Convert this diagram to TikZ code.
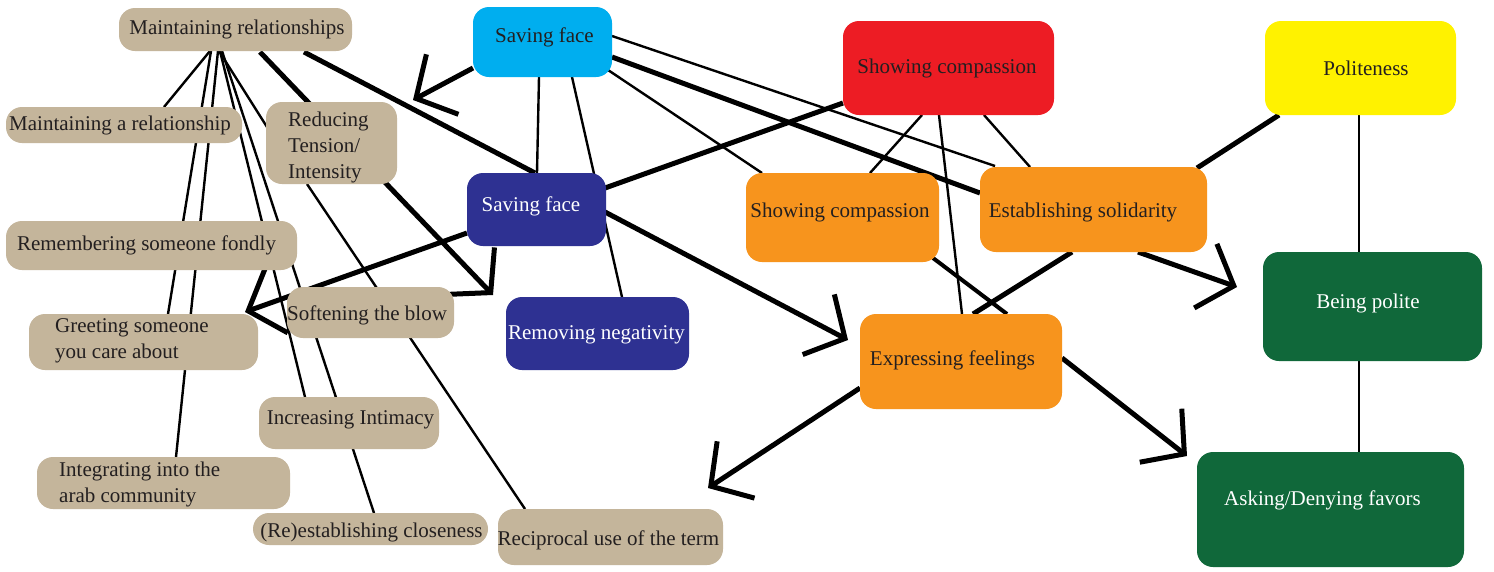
\documentclass[tikz,border=0pt]{standalone}
\usepackage{fontspec}
\setmainfont{Liberation Serif}
\usetikzlibrary{arrows.meta,calc,backgrounds}
\definecolor{beige}{HTML}{C4B59B}
\definecolor{cyanbox}{HTML}{00AEEF}
\definecolor{navy}{HTML}{2E3192}
\definecolor{redbox}{HTML}{ED1C24}
\definecolor{orangebox}{HTML}{F7941D}
\definecolor{yellowbox}{HTML}{FFF200}
\definecolor{greenbox}{HTML}{10683A}
\definecolor{ink}{HTML}{231F20}
\begin{document}
\begin{tikzpicture}[x=1pt,y=-1pt,
  box/.style={rectangle, rounded corners=16pt, inner sep=0pt, draw=none},
  txt/.style={font=\fontsize{21}{26}\selectfont, text=ink, inner sep=0pt, align=left, yshift=-2pt},
  wtxt/.style={txt, text=white},
  thinline/.style={line width=2.4pt},
  medline/.style={line width=4pt},
  thickline/.style={line width=5pt},
  arr/.style={thickline, miter limit=20, -{Straight Barb[length=30pt,width=68pt]}},
]
\useasboundingbox (0,0) rectangle (1494,571);

% ---- beige boxes ----
\node[box, fill=beige, minimum width=233pt, minimum height=43pt] (MR) at (235.5,29.5) {};
\node[box, fill=beige, minimum width=236pt, minimum height=36pt] (MAR) at (124,125) {};
\node[box, fill=beige, minimum width=131pt, minimum height=82pt] (RT) at (331.5,143) {};
\node[box, fill=beige, minimum width=291pt, minimum height=49pt] (RSF) at (151.5,245.5) {};
\node[box, fill=beige, minimum width=229pt, minimum height=56pt] (GS) at (143.5,342) {};
\node[box, fill=beige, minimum width=167pt, minimum height=51pt] (STB) at (370.5,312.5) {};
\node[box, fill=beige, minimum width=180pt, minimum height=52pt] (II) at (349,423) {};
\node[box, fill=beige, minimum width=253pt, minimum height=52pt] (IAC) at (163.5,483) {};
\node[box, fill=beige, minimum width=235pt, minimum height=32pt] (REC) at (370.5,529) {};
\node[box, fill=beige, minimum width=225pt, minimum height=56pt] (RUT) at (610.5,537) {};

% ---- coloured boxes ----
\node[box, fill=cyanbox, minimum width=139pt, minimum height=70pt] (SF1) at (542.5,42) {};
\node[box, fill=navy, minimum width=139pt, minimum height=73pt] (SF2) at (536.5,209.5) {};
\node[box, fill=navy, minimum width=183pt, minimum height=73pt] (RN) at (597.5,333.5) {};
\node[box, fill=redbox, minimum width=211pt, minimum height=94pt] (SCr) at (948.5,68) {};
\node[box, fill=orangebox, minimum width=193pt, minimum height=89pt] (SCo) at (842.5,217.5) {};
\node[box, fill=orangebox, minimum width=227pt, minimum height=85pt] (ES) at (1093.5,209.5) {};
\node[box, fill=orangebox, minimum width=202pt, minimum height=95pt] (EF) at (961,361.5) {};
\node[box, fill=yellowbox, minimum width=191pt, minimum height=94pt] (POL) at (1360.5,68) {};
\node[box, fill=greenbox, minimum width=219pt, minimum height=109pt] (BP) at (1372.5,306.5) {};
\node[box, fill=greenbox, minimum width=267pt, minimum height=115pt] (ADF) at (1330.5,509.5) {};

% ---- texts ----
\node[txt] (MRt) at (237,27) {Maintaining relationships};
\node[txt] (MARt) at (120,123) {Maintaining a relationship};
\node[txt, anchor=west] (RTt) at (288,145) {Reducing\\Tension/\\Intensity};
\node[txt] (RSFt) at (146.5,243) {Remembering someone fondly};
\node[txt, anchor=west] (GSt) at (55,339) {Greeting someone\\you care about};
\node[txt] (STBt) at (367,313) {Softening the blow};
\node[txt] (IIt) at (350.5,418) {Increasing Intimacy};
\node[txt, anchor=west] (IACt) at (59,482) {Integrating into the\\arab community};
\node[txt] (RECt) at (371.5,530) {(Re)establishing closeness};
\node[txt] (RUTt) at (608.5,538) {Reciprocal use of the term};
\node[txt] (SF1t) at (544.5,35) {Saving face};
\node[wtxt] (SF2t) at (531,204) {Saving face};
\node[wtxt] (RNt) at (596.5,333) {Removing negativity};
\node[txt] (SCrt) at (947,66) {Showing compassion};
\node[txt] (SCot) at (840,210) {Showing compassion};
\node[txt] (ESt) at (1083,210) {Establishing solidarity};
\node[txt] (EFt) at (952.5,358) {Expressing feelings};
\node[txt] (POLt) at (1366,66) {Politeness};
\node[wtxt] (BPt) at (1368,301) {Being polite};
\node[wtxt] (ADFt) at (1322.5,498) {Asking/Denying favors};

% ---- free arrow ends ----
\coordinate (t23) at (413,100);
\coordinate (t24) at (493,295);
\coordinate (t25) at (245,312);
\coordinate (t26) at (848,340);
\coordinate (t27) at (708,488);
\coordinate (t28) at (1187,456);
\coordinate (t29) at (1237,287);

\begin{pgfonlayer}{background}
\fill[white] (0,0) rectangle (1494,571);
% thin connectors
\draw[thinline] ($(MR.center)+(-25.5,21.5)$) -- ($(MAR.center)+(40,-18)$);
\draw[thinline] ($(MR.center)+(-24.5,21.5)$) -- ($(GS.center)+(24.5,-28)$);
\draw[thinline] ($(MR.center)+(-17.5,21.5)$) -- ($(IAC.center)+(12.5,-26)$);
\draw[thinline] ($(MR.center)+(-16.5,21.5)$) -- ($(RT.center)+(-64.5,-16)$);
\draw[thinline] ($(MR.center)+(-15.5,21.5)$) -- ($(II.center)+(-44,-26)$);
\draw[thinline] ($(MR.center)+(-13.5,21.5)$) -- ($(REC.center)+(3.5,-16)$);
\draw[thinline] ($(RT.center)+(-24.5,41)$) -- ($(RUT.center)+(-85.5,-28)$);
\draw[thinline] ($(SF1.center)+(-3.5,35)$) -- ($(SF2.center)+(0.5,-36.5)$);
\draw[thinline] ($(SF1.center)+(29.5,35)$) -- ($(RN.center)+(24.5,-36.5)$);
\draw[thinline] ($(SF1.center)+(65.5,28)$) -- ($(SCo.center)+(-80.5,-44.5)$);
\draw[thinline] ($(SF1.center)+(69.5,-6)$) -- ($(ES.center)+(-98.5,-43.5)$);
\draw[thinline] ($(SCr.center)+(-26.5,47)$) -- ($(SCo.center)+(27.5,-44.5)$);
\draw[thinline] ($(SCr.center)+(-9.5,47)$) -- ($(EF.center)+(1,-47.5)$);
\draw[thinline] ($(SCr.center)+(35.5,47)$) -- ($(ES.center)+(-63.5,-42.5)$);
\draw[thinline] ($(POL.center)+(-1.5,47)$) -- ($(BP.center)+(-13.5,-54.5)$);
\draw[thinline] ($(BP.center)+(-13.5,54.5)$) -- ($(ADF.center)+(28.5,-57.5)$);
% medium
\draw[medline] ($(SCo.center)+(90.5,40.5)$) -- ($(EF.center)+(46,-47.5)$);
% thick
\draw[thickline] ($(MR.center)+(68.5,22.5)$) -- ($(SF2.center)+(-1.5,-36.5)$);
\draw[thickline] ($(SF1.center)+(69.5,15)$) -- ($(ES.center)+(-113.5,-16.5)$);
\draw[thickline] ($(SCr.center)+(-105.5,35)$) -- ($(SF2.center)+(68.5,-21.5)$);
\draw[thickline] ($(ES.center)+(-21.5,42.5)$) -- ($(EF.center)+(12,-47.5)$);
\draw[thickline] ($(POL.center)+(-81.5,47)$) -- ($(ES.center)+(103.5,-41.5)$);
% arrows
\draw[arr] ($(SF1.center)+(-69.5,26)$) -- (t23);
\draw[arr] ($(MR.center)+(24.5,22.5)$) -- (t24);
\draw[arr] ($(SF2.center)+(-69.5,23.5)$) -- (t25);
\draw[arr] ($(SF2.center)+(68.5,2.5)$) -- (t26);
\draw[arr] ($(EF.center)+(-101,26.5)$) -- (t27);
\draw[arr] ($(EF.center)+(101,-3.5)$) -- (t28);
\draw[arr] ($(ES.center)+(44.5,42.5)$) -- (t29);
\end{pgfonlayer}
\end{tikzpicture}
\end{document}
